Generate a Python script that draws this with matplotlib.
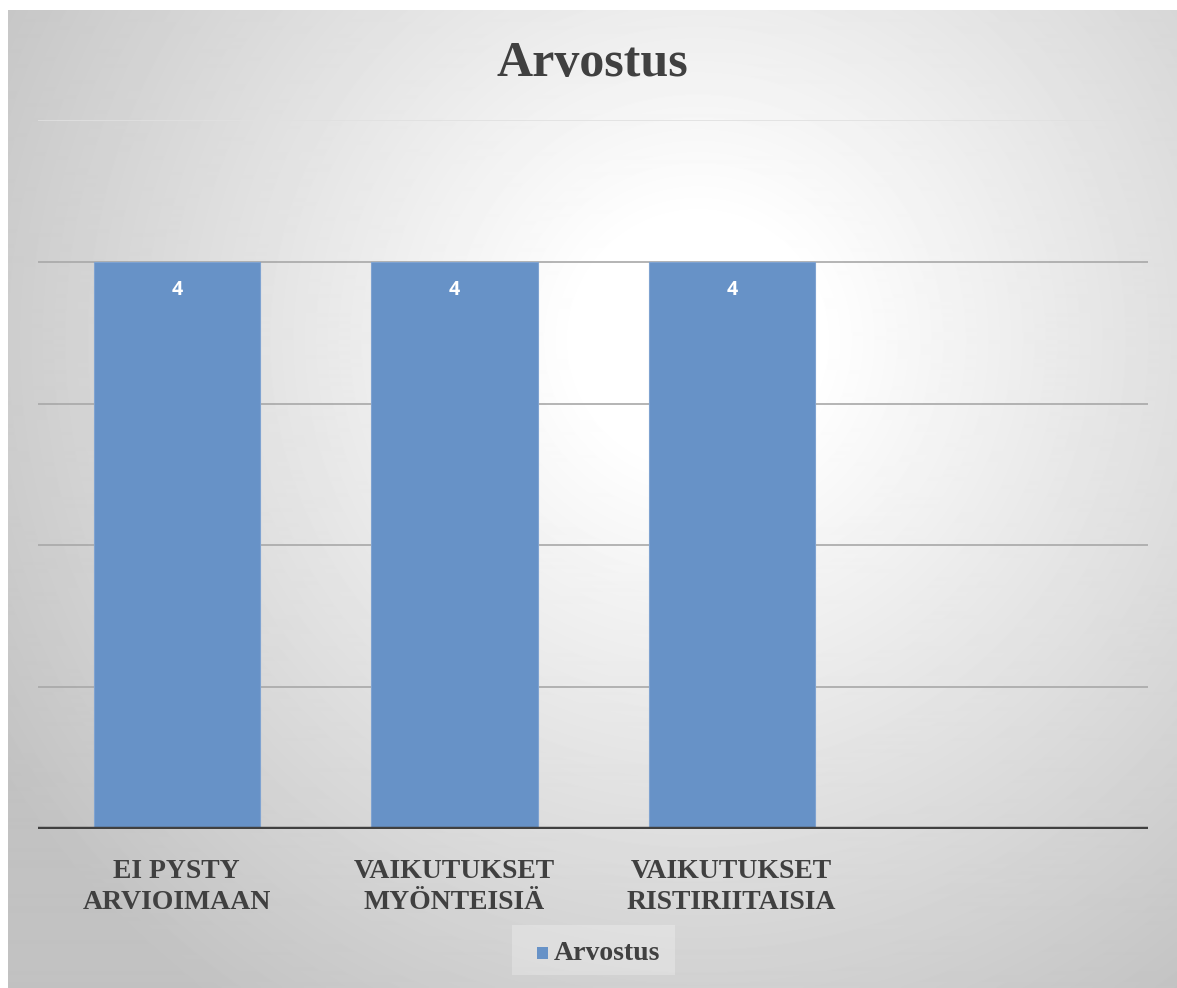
import numpy as np
import matplotlib.pyplot as plt
from matplotlib.patches import Rectangle

categories = ['EI PYSTY\nARVIOIMAAN', 'VAIKUTUKSET\nMYÖNTEISIÄ', 'VAIKUTUKSET\nRISTIRIITAISIA', '']
values = [4, 4, 4]
series_name = 'Arvostus'
title = 'Arvostus'

bar_color = '#6792c7'
text_color = '#404040'
serif = ['Liberation Serif', 'DejaVu Serif']

W, H = 1177, 988
fig = plt.figure(figsize=(W / 100, H / 100), dpi=100)
fig.patch.set_facecolor('white')

# radial gradient background
bg = fig.add_axes([8 / W, 0, 1 - 8 / W, 1 - 10 / H])
bg.set_axis_off()
yy, xx = np.mgrid[0:978, 0:1169]
cx, cy = 690, 330
r = np.sqrt((xx - cx) ** 2 + (yy - cy) ** 2)
shade = np.clip(1.0 - 0.24 * np.clip((r - 120) / 700, 0, 1), 0, 1)
bg.imshow(shade, cmap='gray', vmin=0, vmax=1, aspect='auto', interpolation='bilinear')

# main chart
ax = fig.add_axes([38 / W, (H - 829) / H, 1110 / W, (829 - 120) / H])
ax.patch.set_alpha(0)
x = np.arange(len(categories))
bars = ax.bar(x[:len(values)], values, width=0.6, color=bar_color, edgecolor='#7fa3d1', linewidth=0.8, zorder=3)
ax.set_xlim(-0.5, len(categories) - 0.5)
ax.set_ylim(0, 5)
for yv in [1, 2, 3, 4]:
    ax.axhline(yv, color='#a8a8a8', linewidth=1.2, zorder=1)
ax.axhline(5, color='#e0e0e0', linewidth=1.2, zorder=1)
ax.axhline(0, color='#404040', linewidth=3.2, zorder=4)
ax.tick_params(left=False, bottom=False, labelleft=False)
for s in ax.spines.values():
    s.set_visible(False)
ax.set_xticks(x)
ax.set_xticklabels(categories, fontfamily=serif, fontweight='bold', fontsize=20,
                   color=text_color, linespacing=1.3)
ax.tick_params(axis='x', pad=18)

for b, v in zip(bars, values):
    ax.text(b.get_x() + b.get_width() / 2, v - 0.2, str(v), ha='center', va='center',
            color='white', fontsize=14, fontweight='bold', fontfamily=['Open Sans', 'DejaVu Sans'], zorder=5)

fig.text(592 / W, 1 - 64 / H, title, ha='center', va='center', fontsize=36,
         fontweight='bold', fontfamily=serif, color=text_color)

# legend
fig.patches.append(Rectangle((512 / W, 1 - 975 / H), 163 / W, 50 / H, transform=fig.transFigure,
                             facecolor='white', alpha=0.25, edgecolor='none'))
fig.patches.append(Rectangle((537 / W, 1 - 959 / H), 11 / W, 12 / H, transform=fig.transFigure,
                             facecolor=bar_color, edgecolor='none'))
fig.text(554 / W, 1 - 953 / H, series_name, ha='left', va='center', fontsize=20,
         fontweight='bold', fontfamily=serif, color=text_color)

fig.savefig('out.png', dpi=100)
